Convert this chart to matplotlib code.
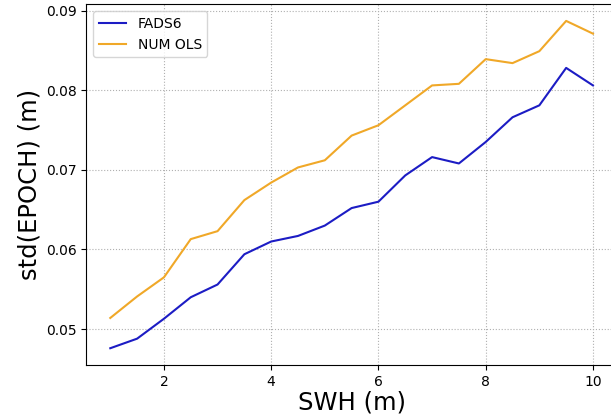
import matplotlib
matplotlib.use('Agg')
import matplotlib.pyplot as plt
import numpy as np

swh = np.arange(1.0, 10.01, 0.5)
fads6 = [0.0476, 0.0488, 0.0513, 0.0540, 0.0556, 0.0594, 0.0610, 0.0617, 0.0630, 0.0652,
         0.0660, 0.0693, 0.0716, 0.0708, 0.0735, 0.0766, 0.0781, 0.0828, 0.0806]
num_ols = [0.0514, 0.0541, 0.0565, 0.0613, 0.0623, 0.0662, 0.0684, 0.0703, 0.0712, 0.0743,
           0.0756, 0.0781, 0.0806, 0.0808, 0.0839, 0.0834, 0.0849, 0.0887, 0.0871]

fig = plt.figure(figsize=(6.11, 4.19), dpi=100)
ax = fig.add_axes([0.141, 0.129, 0.869, 0.861])

ax.plot(swh, fads6, color='#1c1cc4', lw=1.5, label='FADS6')
ax.plot(swh, num_ols, color='#f0a828', lw=1.5, label='NUM OLS')

ax.set_xlim(0.55, 10.45)
ax.set_ylim(0.0455, 0.0908)
ax.set_xticks([2, 4, 6, 8, 10])
ax.set_yticks([0.05, 0.06, 0.07, 0.08, 0.09])
ax.tick_params(labelsize=10)
ax.grid(True, linestyle=':', color='#b0b0b0')

ax.set_xlabel('SWH (m)', fontsize=17.5, labelpad=1)
ax.set_ylabel('std(EPOCH) (m)', fontsize=17.5, labelpad=3)
ax.legend(loc='upper left', fontsize=10)

fig.savefig('out.png', dpi=100)
